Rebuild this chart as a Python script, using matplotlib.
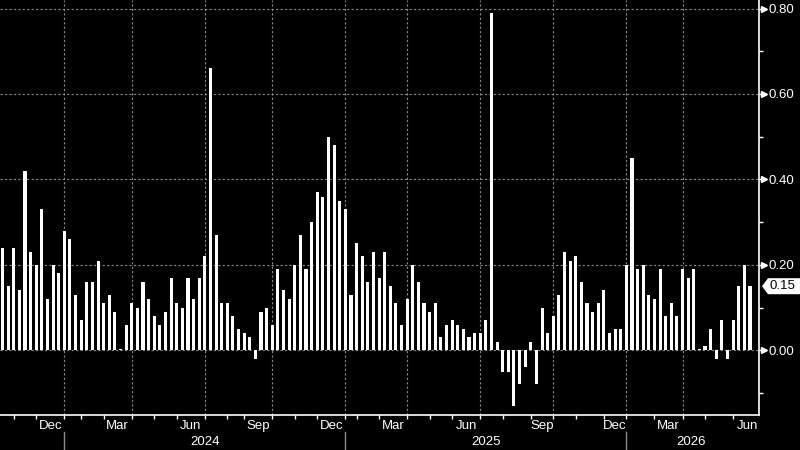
import numpy as np
import matplotlib; matplotlib.use("Agg")
import matplotlib.pyplot as plt
from matplotlib.transforms import blended_transform_factory
from matplotlib.patches import Polygon

values = [
    0.24, 0.15, 0.24, 0.14, 0.42, 0.23, 0.20, 0.33, 0.12, 0.20, 0.18, 0.28,
    0.26, 0.13, 0.07, 0.16, 0.16, 0.21, 0.11, 0.13, 0.09, 0.003, 0.06, 0.11,
    0.10, 0.16, 0.12, 0.08, 0.06, 0.09, 0.17, 0.11, 0.10, 0.17, 0.12, 0.17,
    0.22, 0.66, 0.27, 0.11, 0.11, 0.08, 0.05, 0.04, 0.03, -0.02, 0.09, 0.10,
    0.06, 0.19, 0.14, 0.12, 0.20, 0.27, 0.19, 0.30, 0.37, 0.36, 0.50, 0.48,
    0.35, 0.33, 0.13, 0.25, 0.22, 0.16, 0.23, 0.17, 0.23, 0.15, 0.11, 0.06,
    0.12, 0.20, 0.16, 0.11, 0.09, 0.11, 0.03, 0.06, 0.07, 0.06, 0.05, 0.03,
    0.04, 0.04, 0.07, 0.79, 0.02, -0.05, -0.05, -0.13, -0.08, -0.04, 0.02, -0.08,
    0.10, 0.04, 0.08, 0.13, 0.23, 0.21, 0.22, 0.16, 0.11, 0.09, 0.11, 0.14,
    0.04, 0.05, 0.05, 0.20, 0.45, 0.19, 0.20, 0.13, 0.12, 0.19, 0.08, 0.11,
    0.08, 0.19, 0.17, 0.19, 0.003, 0.01, 0.05, -0.02, 0.07, -0.02, 0.07, 0.15,
    0.20, 0.15,
]
# index of the first bar of each month (axis ticks)
month_starts = [2, 6, 11, 14, 18, 23, 27, 31, 36, 40, 43, 48, 52, 56, 61, 63,
                67, 72, 76, 80, 85, 89, 94, 98, 102, 107, 111, 116, 121, 125, 130]
quarter_starts = [11, 23, 36, 48, 61, 72, 85, 98, 111, 121]
month_labels = ["Dec", "Mar", "Jun", "Sep", "Dec", "Mar", "Jun", "Sep", "Dec", "Mar", "Jun"]
month_spans = [(6, 11), (18, 23), (31, 36), (43, 48), (56, 61), (67, 72),
               (80, 85), (94, 98), (107, 111), (116, 121), (130, 135)]
year_labels = ["2024", "2025", "2026"]
year_spans = [(11, 61), (61, 111), (111, 134)]
last_value = values[-1]

plt.rcParams["font.family"] = ["Liberation Sans", "DejaVu Sans"]
fs = 9.5
grid_c = "#8a8a8a"

fig = plt.figure(figsize=(8, 4.5), dpi=100, facecolor="black")
ax = fig.add_axes([0, 35 / 450, 759 / 800, 415 / 450], facecolor="black")

x = np.arange(len(values))
ax.bar(x, values, width=0.55, color="white", zorder=3)

ax.set_xlim(-0.445, 134.6)
ax.set_ylim(-0.1515, 0.82)

for q in quarter_starts:
    ax.axvline(q, color=grid_c, lw=0.8, ls=(0, (2, 2)), zorder=1)
for g in np.arange(0, 0.81, 0.2):
    ax.axhline(g, color=grid_c, lw=0.8, ls=(0, (2, 2)), zorder=1)

for s in ["top", "left"]:
    ax.spines[s].set_visible(False)
for s in ["bottom", "right"]:
    ax.spines[s].set_color("white")
    ax.spines[s].set_linewidth(1.2)

ax.set_xticks(month_starts)
ax.tick_params(axis="x", colors="white", length=3, width=1, labelbottom=False)

ax.yaxis.tick_right()
ax.set_yticks(np.arange(0, 0.81, 0.2))
ax.set_yticks(np.arange(-0.1, 0.8, 0.2), minor=True)
ax.set_yticklabels([f"{v:.2f}" for v in np.arange(0, 0.81, 0.2)])
ax.tick_params(axis="y", which="major", colors="white", length=2.5, width=1,
               pad=4.5, labelsize=fs)
ax.tick_params(axis="y", which="minor", colors="white", length=3, width=1)

bt = blended_transform_factory(ax.transAxes, ax.transData)
ax.plot([764 / 759] * 5, np.arange(0, 0.81, 0.2), ls="none", marker=">",
        ms=5, color="white", transform=bt, clip_on=False)

# month / year labels below the axis
xt = blended_transform_factory(ax.transData, ax.transAxes)
for lab, (a, b) in zip(month_labels, month_spans):
    ax.text((a + b) / 2, -0.027, lab, transform=xt, ha="center", va="center",
            color="white", fontsize=fs)
for lab, (a, b) in zip(year_labels, year_spans):
    ax.text((a + b) / 2, -0.064, lab, transform=xt, ha="center", va="center",
            color="white", fontsize=fs)
for a, _ in year_spans:
    ax.plot([a, a], [-0.041, -0.09], color=grid_c, lw=1, transform=xt, clip_on=False)

# last value tag
h = 8 / 427.25
poly = Polygon([(762 / 759, last_value), (768 / 759, last_value + h),
                (802 / 759, last_value + h), (802 / 759, last_value - h),
                (768 / 759, last_value - h)], closed=True, facecolor="white",
               edgecolor="none", transform=bt, clip_on=False, zorder=5)
ax.add_patch(poly)
ax.text(769 / 759, last_value, f"{last_value:.2f}", transform=bt, ha="left",
        va="center", color="black", fontsize=fs, zorder=6, clip_on=False)

fig.savefig("out.png", dpi=100, facecolor="black")
